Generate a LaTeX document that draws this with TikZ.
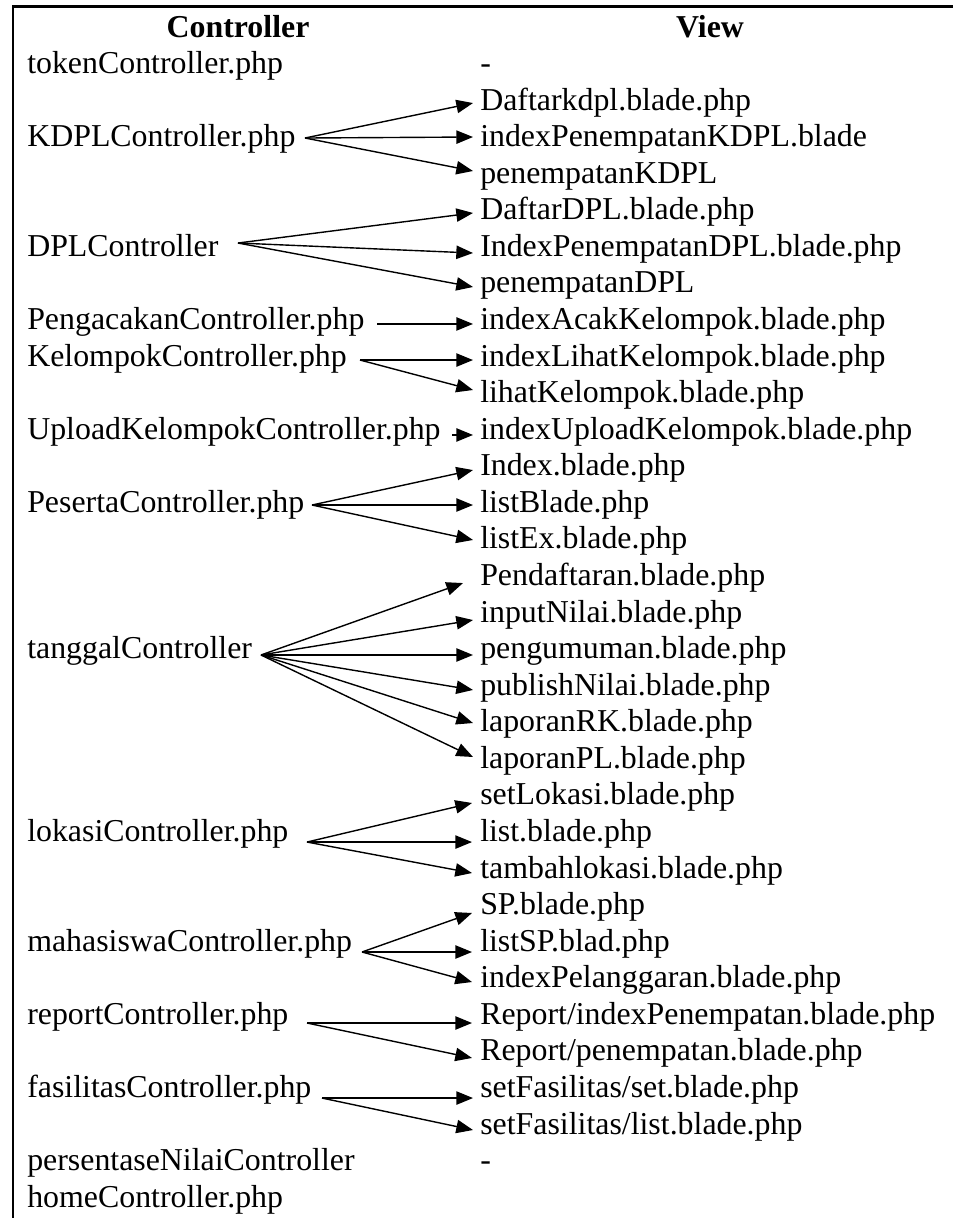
\documentclass[tikz,border=0pt]{standalone}
\usepackage{fontspec}
\setmainfont{Liberation Serif}
\usetikzlibrary{arrows.meta}
\begin{document}
\begin{tikzpicture}[x=0.75pt,y=-0.75pt,
  lbl/.style={anchor=base west, inner sep=0pt, font=\fontsize{23.9}{28}\selectfont},
  colhead/.style={anchor=base, inner sep=0pt, font=\fontsize{23.9}{28}\selectfont\bfseries},
  flow/.style={line width=1.05pt, -{Triangle[length=12.5pt,width=10pt]}},
  borderline/.style={line width=1.9pt}]
\useasboundingbox (0,0) rectangle (953,1218);
% table border (top and left rules)
\draw[borderline] (13,1218) -- (13,6.5) -- (953,6.5);

% column headings
\node[colhead] (hc) at (238,37) {Controller};
\node[colhead] (hv) at (710,37) {View};

% controllers
\node[lbl] (c1)  at (27,73.57)   {tokenController.php};
\node[lbl] (c3)  at (27,146.71)  {KDPLController.php};
\node[lbl] (c6)  at (27,256.42)  {DPLController};
\node[lbl] (c8)  at (27,329.56)  {PengacakanController.php};
\node[lbl] (c9)  at (27,366.13)  {KelompokController.php};
\node[lbl] (c11) at (27,439.27)  {UploadKelompokController.php};
\node[lbl] (c13) at (27,512.41)  {PesertaController.php};
\node[lbl] (c17) at (27,658.69)  {tanggalController};
\node[lbl] (c22) at (27,841.54)  {lokasiController.php};
\node[lbl] (c25) at (27,951.25)  {mahasiswaController.php};
\node[lbl] (c27) at (27,1024.39) {reportController.php};
\node[lbl] (c29) at (27,1097.53) {fasilitasController.php};
\node[lbl] (c31) at (27,1170.67) {persentaseNilaiController};
\node[lbl] (c32) at (27,1207.24) {homeController.php};

% views
\node[lbl] (v1)  at (480,73.57)   {-};
\node[lbl] (v2)  at (480,110.14)  {Daftarkdpl.blade.php};
\node[lbl] (v3)  at (480,146.71)  {indexPenempatanKDPL.blade};
\node[lbl] (v4)  at (480,183.28)  {penempatanKDPL};
\node[lbl] (v5)  at (480,219.85)  {DaftarDPL.blade.php};
\node[lbl] (v6)  at (480,256.42)  {IndexPenempatanDPL.blade.php};
\node[lbl] (v7)  at (480,292.99)  {penempatanDPL};
\node[lbl] (v8)  at (480,329.56)  {indexAcakKelompok.blade.php};
\node[lbl] (v9)  at (480,366.13)  {indexLihatKelompok.blade.php};
\node[lbl] (v10) at (480,402.7)   {lihatKelompok.blade.php};
\node[lbl] (v11) at (480,439.27)  {indexUploadKelompok.blade.php};
\node[lbl] (v12) at (480,475.84)  {Index.blade.php};
\node[lbl] (v13) at (480,512.41)  {listBlade.php};
\node[lbl] (v14) at (480,548.98)  {listEx.blade.php};
\node[lbl] (v15) at (480,585.55)  {Pendaftaran.blade.php};
\node[lbl] (v16) at (480,622.12)  {inputNilai.blade.php};
\node[lbl] (v17) at (480,658.69)  {pengumuman.blade.php};
\node[lbl] (v18) at (480,695.26)  {publishNilai.blade.php};
\node[lbl] (v19) at (480,731.83)  {laporanRK.blade.php};
\node[lbl] (v20) at (480,768.4)   {laporanPL.blade.php};
\node[lbl] (v21) at (480,804.97)  {setLokasi.blade.php};
\node[lbl] (v22) at (480,841.54)  {list.blade.php};
\node[lbl] (v23) at (480,878.11)  {tambahlokasi.blade.php};
\node[lbl] (v24) at (480,914.68)  {SP.blade.php};
\node[lbl] (v25) at (480,951.25)  {listSP.blad.php};
\node[lbl] (v26) at (480,987.82)  {indexPelanggaran.blade.php};
\node[lbl] (v27) at (480,1024.39) {Report/indexPenempatan.blade.php};
\node[lbl] (v28) at (480,1060.96) {Report/penempatan.blade.php};
\node[lbl] (v29) at (480,1097.53) {setFasilitas/set.blade.php};
\node[lbl] (v30) at (480,1134.1)  {setFasilitas/list.blade.php};
\node[lbl] (v31) at (480,1170.67) {-};

% KDPLController
\draw[flow] ([shift={(278,-8.7)}]c3.base west) -- ([shift={(-7,-7.1)}]v2.base west);
\draw[flow] ([shift={(278,-8.7)}]c3.base west) -- ([shift={(-7,-9.7)}]v3.base west);
\draw[flow] ([shift={(278,-8.7)}]c3.base west) -- ([shift={(-7,-12.3)}]v4.base west);
% DPLController
\draw[flow] ([shift={(211,-13.4)}]c6.base west) -- ([shift={(-7,-6.9)}]v5.base west);
\draw[flow] ([shift={(211,-13.4)}]c6.base west) -- ([shift={(-7,-3.4)}]v6.base west);
\draw[flow] ([shift={(211,-13.4)}]c6.base west) -- ([shift={(-7,-6)}]v7.base west);
% PengacakanController
\draw[flow] ([shift={(350,-5.6)}]c8.base west) -- ([shift={(-7,-5.6)}]v8.base west);
% KelompokController
\draw[flow] ([shift={(333,-6.1)}]c9.base west) -- ([shift={(-7,-6.1)}]v9.base west);
\draw[flow] ([shift={(333,-6.1)}]c9.base west) -- ([shift={(-7,-12.7)}]v10.base west);
% UploadKelompokController
\draw[flow] ([shift={(425,-4.3)}]c11.base west) -- ([shift={(-7,-4.3)}]v11.base west);
% PesertaController
\draw[flow] ([shift={(285,-7.4)}]c13.base west) -- ([shift={(-7,-5.8)}]v12.base west);
\draw[flow] ([shift={(285,-7.4)}]c13.base west) -- ([shift={(-7,-7.4)}]v13.base west);
\draw[flow] ([shift={(285,-7.4)}]c13.base west) -- ([shift={(-7,-9)}]v14.base west);
% tanggalController
\draw[flow] ([shift={(234,-3.7)}]c17.base west) -- ([shift={(-17,-2.5)}]v15.base west);
\draw[flow] ([shift={(234,-3.7)}]c17.base west) -- ([shift={(-7,-2.1)}]v16.base west);
\draw[flow] ([shift={(234,-3.7)}]c17.base west) -- ([shift={(-7,-3.7)}]v17.base west);
\draw[flow] ([shift={(234,-3.7)}]c17.base west) -- ([shift={(-7,-5.3)}]v18.base west);
\draw[flow] ([shift={(234,-3.7)}]c17.base west) -- ([shift={(-7,-8.8)}]v19.base west);
\draw[flow] ([shift={(234,-3.7)}]c17.base west) -- ([shift={(-7,-11.4)}]v20.base west);
% lokasiController
\draw[flow] ([shift={(280,0.5)}]c22.base west) -- ([shift={(-8,-2)}]v21.base west);
\draw[flow] ([shift={(280,0.5)}]c22.base west) -- ([shift={(-8,0.5)}]v22.base west);
\draw[flow] ([shift={(280,0.5)}]c22.base west) -- ([shift={(-8,-5.1)}]v23.base west);
% mahasiswaController
\draw[flow] ([shift={(335,0.75)}]c25.base west) -- ([shift={(-8,-1.7)}]v24.base west);
\draw[flow] ([shift={(335,0.75)}]c25.base west) -- ([shift={(-8,0.75)}]v25.base west);
\draw[flow] ([shift={(335,0.75)}]c25.base west) -- ([shift={(-8,-5.8)}]v26.base west);
% reportController
\draw[flow] ([shift={(280,-1.4)}]c27.base west) -- ([shift={(-8,-1.4)}]v27.base west);
\draw[flow] ([shift={(280,-1.4)}]c27.base west) -- ([shift={(-8,-3)}]v28.base west);
% fasilitasController
\draw[flow] ([shift={(295,0.5)}]c29.base west) -- ([shift={(-7,0.5)}]v29.base west);
\draw[flow] ([shift={(295,0.5)}]c29.base west) -- ([shift={(-7,-4.1)}]v30.base west);
\end{tikzpicture}
\end{document}
